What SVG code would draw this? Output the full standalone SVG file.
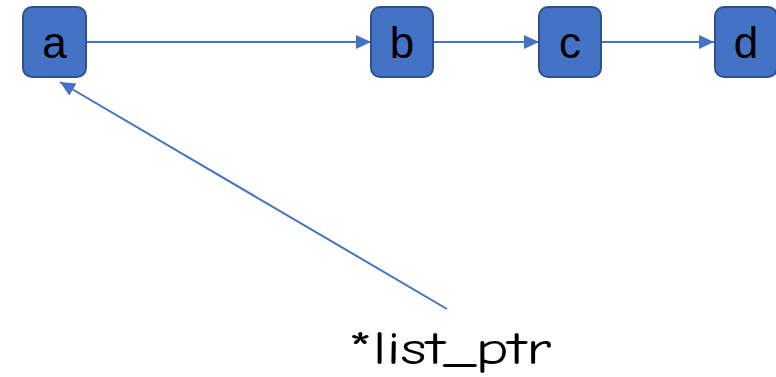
<svg xmlns="http://www.w3.org/2000/svg" width="776" height="377" viewBox="0 0 776 377">
<style>
.node rect{fill:#4472C4;stroke:#2F528F;stroke-width:2}
.node text{font-family:"Liberation Sans","Open Sans",sans-serif;font-size:44px;fill:#000;text-anchor:middle}
.edge{stroke:#4472C4;stroke-width:2;fill:none;marker-end:url(#arr)}
.lbl{font-family:"Comic Sans MS","Comic Neue","DejaVu Sans",sans-serif;font-size:47px;fill:#000}
</style>
<defs>
<marker id="arr" markerUnits="userSpaceOnUse" markerWidth="16" markerHeight="14" refX="15" refY="7" orient="auto">
<path d="M0,0 L15,7 L0,14 Z" fill="#4472C4"/>
</marker>
</defs>
<rect width="776" height="377" fill="#fff"/>
<g id="connectors">
<line class="edge" x1="87" y1="42" x2="371" y2="42"/>
<line class="edge" x1="433" y1="42" x2="539" y2="42"/>
<line class="edge" x1="601" y1="42" x2="714" y2="42"/>
<line class="edge" x1="447" y1="309" x2="60" y2="82"/>
</g>
<g id="node-a" class="node"><rect x="23" y="7" width="63" height="70" rx="9"/><text x="54.5" y="58">a</text></g>
<g id="node-b" class="node"><rect x="371" y="7" width="62" height="70" rx="9"/><text x="402" y="58">b</text></g>
<g id="node-c" class="node"><rect x="539" y="7" width="62" height="70" rx="9"/><text x="570" y="58">c</text></g>
<g id="node-d" class="node"><rect x="715" y="7" width="62" height="70" rx="9"/><text x="746" y="58">d</text></g>
<g id="label-list_ptr"><text class="lbl" x="348" y="364" textLength="203" lengthAdjust="spacingAndGlyphs">*list_ptr</text></g>
</svg>
